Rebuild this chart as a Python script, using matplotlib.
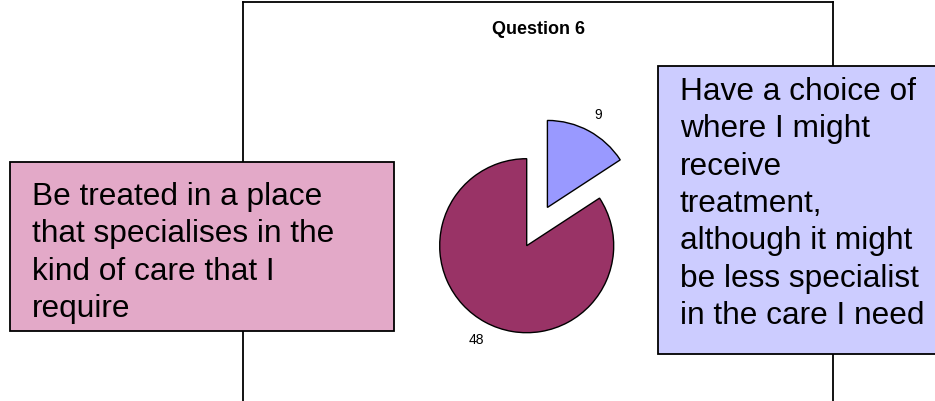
import matplotlib
matplotlib.use("Agg")
import matplotlib.pyplot as plt
from matplotlib.patches import Rectangle

plt.rcParams["font.family"] = ["Liberation Sans", "DejaVu Sans"]

# data
title = "Question 6"
counts = [9, 48]
slice_colors = ["#9999FF", "#993366"]
left_text = "Be treated in a place\nthat specialises in the\nkind of care that I\nrequire"
right_text = ("Have a choice of\nwhere I might\nreceive\ntreatment,\nalthough it might\n"
              "be less specialist\nin the care I need")

W, H = 935, 402
fig = plt.figure(figsize=(W / 100, H / 100), dpi=100)


def fx(px):
    return px / W


def fy(py):
    return 1 - py / H


# chart area frame (bottom runs off the image)
frame = fig.add_axes([fx(243), -0.1, fx(833) - fx(243), 1.1 - 3.3 / H])
frame.set_xticks([])
frame.set_yticks([])
for s in frame.spines.values():
    s.set_color("black")
    s.set_linewidth(1.3)

fig.text(fx(538.7), fy(29), title, ha="center", va="center",
         fontsize=13, fontweight="bold")

# pie
cx, cy, r, half = 526.7, 246.7, 87.0, 150.0
ax = fig.add_axes([fx(cx - half), fy(cy + half), 2 * half / W, 2 * half / H])
wedges, labels = ax.pie(counts, explode=[0.5, 0], colors=slice_colors, startangle=90,
                        counterclock=False, labels=[str(c) for c in counts],
                        labeldistance=1.22,
                        wedgeprops=dict(edgecolor="black", linewidth=1.0),
                        textprops=dict(fontsize=10))
for t in labels:
    t.set_ha("center")
ax.set_xlim(-half / r, half / r)
ax.set_ylim(-half / r, half / r)
ax.set_axis_off()

# callout boxes
fig.add_artist(Rectangle((fx(9.5), fy(331.5)), fx(394) - fx(9.5), (331.5 - 163) / H,
                         transform=fig.transFigure, facecolor="#E3A9C8",
                         edgecolor="black", linewidth=1.3, zorder=2))
fig.text(fx(31.5), fy(182), left_text, ha="left", va="top", fontsize=22.8,
         linespacing=1.32, zorder=3)

fig.add_artist(Rectangle((fx(657.5), fy(355)), fx(945) - fx(657.5), (355 - 67) / H,
                         transform=fig.transFigure, facecolor="#CCCCFF",
                         edgecolor="black", linewidth=1.3, zorder=2))
fig.text(fx(680), fy(77), right_text, ha="left", va="top", fontsize=22.8,
         linespacing=1.32, zorder=3)

fig.savefig("out.png", dpi=100)
